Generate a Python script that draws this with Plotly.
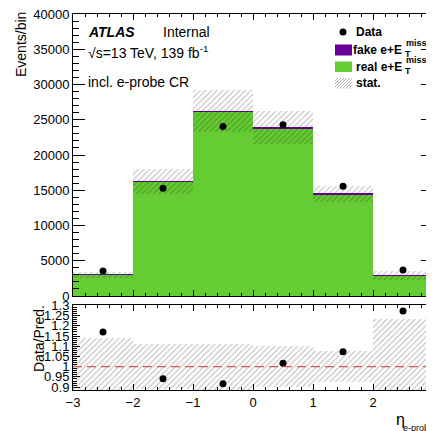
import plotly.graph_objects as go

# ---- data ----
bin_centers = [-2.5, -1.5, -0.5, 0.5, 1.5, 2.5]
bin_width = [1, 1, 1, 1, 1, 1]
real_vals = [2980, 16190, 26180, 23780, 14460, 2870]
fake_vals = [50, 60, 60, 110, 40, 30]
data_vals = [3545, 15300, 24050, 24300, 15560, 3690]
stat_err = [425, 1790, 2950, 2380, 1100, 680]

ratio_ticks = [0.9, 0.95, 1.0, 1.05, 1.1, 1.15, 1.2, 1.25, 1.3]
ratio_tick_text = ["0.9", "0.95", "1", "1.05", "1.1", "1.15", "1.2", "1.25", "1.3"]

GREEN = "#66cc33"
PURPLE = "#660099"
FONT = "Liberation Sans, Arial, Helvetica, sans-serif"

pred = [r + f for r, f in zip(real_vals, fake_vals)]
ratio = [d / p for d, p in zip(data_vals, pred)]
rel_err = [e / p for e, p in zip(stat_err, pred)]

# window pixel -> paper helpers (plot area in window: x 73..433, y 14..390)
# the page body adds an 8px offset, so figure coords = window coords - 8
OFF = 8
L, R, T, B = 73, 433, 14, 390
W, H = 434, 431
def px(x):
    return (x - L) / (R - L)
def py(y):
    return (B - y) / (B - T)

hatch = dict(shape="/", fgcolor="rgba(0,0,0,0.45)", bgcolor="rgba(0,0,0,0)",
             size=4, solidity=0.3)

fig = go.Figure()
fig.add_trace(go.Bar(x=bin_centers, y=real_vals, width=bin_width, base=0,
                     marker=dict(color=GREEN, line=dict(width=0)),
                     xaxis="x", yaxis="y", showlegend=False))
fig.add_trace(go.Bar(x=bin_centers, y=fake_vals, width=bin_width, base=real_vals,
                     marker=dict(color=PURPLE, line=dict(width=0)),
                     xaxis="x", yaxis="y", showlegend=False))
fig.add_trace(go.Bar(x=bin_centers, y=[2 * e for e in stat_err], width=bin_width,
                     base=[p - e for p, e in zip(pred, stat_err)],
                     marker=dict(color="rgba(0,0,0,0)", line=dict(width=0), pattern=hatch),
                     xaxis="x", yaxis="y", showlegend=False))
fig.add_trace(go.Scatter(x=bin_centers, y=data_vals, mode="markers",
                         marker=dict(color="black", size=7),
                         xaxis="x", yaxis="y", showlegend=False))

# ratio panel
fig.add_trace(go.Bar(x=bin_centers, y=[2 * r for r in rel_err], width=bin_width,
                     base=[1 - r for r in rel_err],
                     marker=dict(color="rgba(0,0,0,0)", line=dict(width=0), pattern=hatch),
                     xaxis="x2", yaxis="y2", showlegend=False))
fig.add_trace(go.Scatter(x=bin_centers, y=ratio, mode="markers",
                         marker=dict(color="black", size=7),
                         xaxis="x2", yaxis="y2", showlegend=False))

axis_common = dict(showline=True, linecolor="black", linewidth=1, mirror="allticks",
                   ticks="inside", tickcolor="black", showgrid=False, zeroline=False,
                   automargin=False, ticklabeloverflow="allow",
                   tickfont=dict(family=FONT, size=13, color="black"))

fig.update_layout(
    width=W, height=H,
    margin=dict(l=L - OFF, r=W - (R - OFF), t=T - OFF, b=H - (B - OFF), pad=0,
                autoexpand=False),
    paper_bgcolor="white", plot_bgcolor="white",
    barmode="overlay", bargap=0,
    font=dict(family=FONT, color="black"),
    xaxis=dict(domain=[0, 1], range=[-3, 3], anchor="y", matches="x2",
               showticklabels=False, dtick=1, tick0=0, ticklen=6,
               minor=dict(ticks="inside", dtick=0.2, ticklen=3, tickcolor="black"),
               **axis_common),
    yaxis=dict(domain=[0.25, 1], range=[0, 40000], anchor="x",
               dtick=5000, ticklen=12, tickformat="d",
               minor=dict(ticks="inside", dtick=1000, ticklen=6, tickcolor="black"),
               **axis_common),
    xaxis2=dict(domain=[0, 1], range=[-3, 3], anchor="y2",
                dtick=1, tick0=0, ticklen=6,
                minor=dict(ticks="inside", dtick=0.2, ticklen=3, tickcolor="black"),
                **axis_common),
    yaxis2=dict(domain=[0, 0.226], range=[0.886, 1.302], anchor="x2",
                tickmode="array", tickvals=ratio_ticks, ticktext=ratio_tick_text,
                ticklen=7,
                minor=dict(ticks="inside", dtick=0.01, tick0=0.9, ticklen=4, tickcolor="black"),
                **axis_common),
)

# red dashed reference line at 1
fig.add_shape(type="line", xref="x2 domain", yref="y2", x0=0, x1=1, y0=1, y1=1,
              line=dict(color="#e05555", width=1.2, dash="9px,5px"))

def ann(text, x, y, size, xanchor="left", yanchor="middle", angle=0):
    fig.add_annotation(text=text, xref="paper", yref="paper", x=px(x), y=py(y),
                       xanchor=xanchor, yanchor=yanchor, showarrow=False,
                       textangle=angle, font=dict(family=FONT, size=size, color="black"))

# labels
ann("<b><i>ATLAS</i></b>", 86, 32, 14)
ann("Internal", 161, 32, 14)
ann("√s=13 TeV, 139 fb<sup>-1</sup>", 86, 52, 14)
ann("incl. e-probe CR", 86, 82, 14)
ann("Events/bin", 21, 45, 14, xanchor="center", yanchor="middle", angle=-90)
ann("Data/Pred.", 39, 339, 14, xanchor="center", yanchor="middle", angle=-90)
ann("η", 394, 419, 16)
ann("e-probe", 401, 428, 9)

# manual legend
fig.add_shape(type="circle", xref="paper", yref="paper",
              x0=px(339.5), x1=px(346.5), y0=py(35.5), y1=py(28.5),
              fillcolor="black", line=dict(width=0))
ann("<b>Data</b>", 354, 32, 12)
fig.add_shape(type="rect", xref="paper", yref="paper",
              x0=px(335), x1=px(352), y0=py(55.5), y1=py(44.5),
              fillcolor=PURPLE, line=dict(width=0))
fig.add_shape(type="rect", xref="paper", yref="paper",
              x0=px(335), x1=px(352), y0=py(72), y1=py(61.5),
              fillcolor=GREEN, line=dict(width=0))
for ytxt, label in [(50, "fake e+E"), (67, "real e+E")]:
    ann("<b>" + label + "</b>", 404, ytxt, 12, xanchor="right")
    ann("<b>miss</b>", 403.5, ytxt - 7, 9)
    ann("<b>T</b>", 403, ytxt + 4, 9)
# hatched swatch for stat.
x0s, x1s, y0s, y1s = 335, 352, 78, 88.5
segs = []
c = x0s + y0s
step = 3.0
while c <= x1s + y1s:
    a = max(x0s, c - y1s)
    b = min(x1s, c - y0s)
    if b > a:
        segs.append(f"M{px(a):.5f},{py(c - a):.5f} L{px(b):.5f},{py(c - b):.5f}")
    c += step
fig.add_shape(type="path", xref="paper", yref="paper", path=" ".join(segs),
              line=dict(color="rgba(120,120,120,0.8)", width=0.8))
ann("<b>stat.</b>", 354, 83, 12)

fig.write_html("out.html")
